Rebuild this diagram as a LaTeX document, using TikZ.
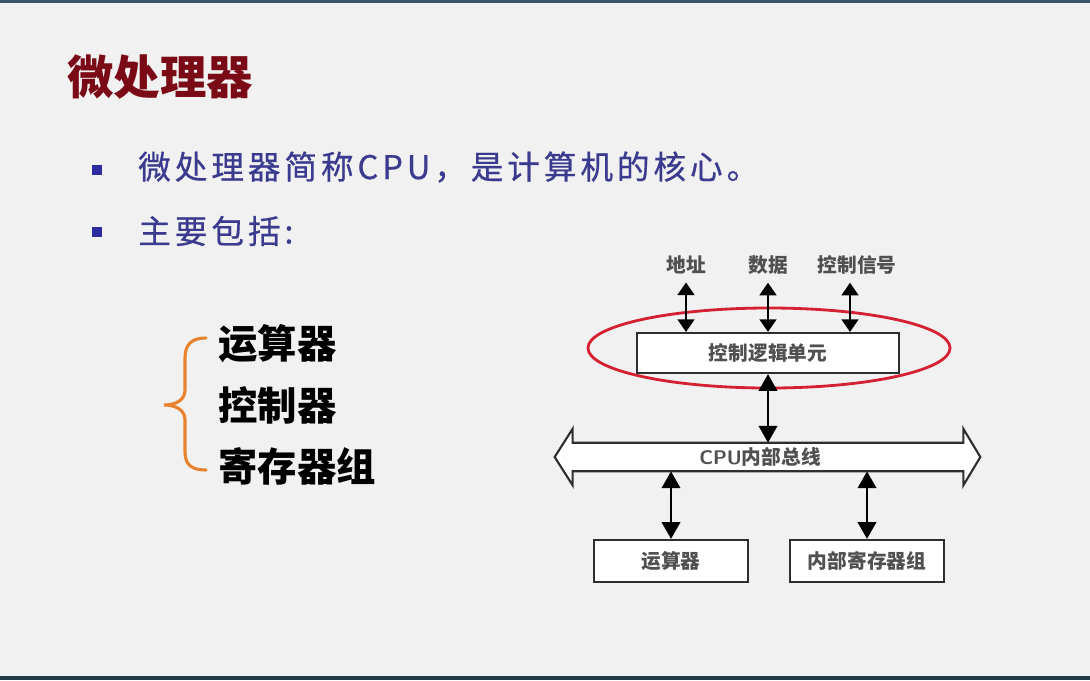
\documentclass[tikz,border=0pt]{standalone}
\usepackage{fontspec}
\usetikzlibrary{arrows.meta,calc,shapes.geometric}
\newfontfamily\cjk{Noto Sans CJK SC}
\newfontfamily\cjkwide[LetterSpace=12,FakeBold=0.6]{Noto Sans CJK SC}
\definecolor{pagebg}{HTML}{F1F1F1}
\definecolor{topbar}{HTML}{3C5566}
\definecolor{botbar}{HTML}{1F3B45}
\definecolor{titlered}{HTML}{7A0A16}
\definecolor{bodyblue}{HTML}{3A3A8E}
\definecolor{bulletblue}{HTML}{2C2CA0}
\definecolor{braceorange}{HTML}{E8822F}
\definecolor{ringred}{HTML}{D42030}
\definecolor{linegray}{HTML}{2E2E2E}
\definecolor{labelgray}{HTML}{505050}
\begin{document}
\begin{tikzpicture}[x=0.025cm,y=-0.025cm,
  bulletsq/.style={fill=bulletblue,minimum size=0.25cm,inner sep=0},
  bodytext/.style={anchor=west,inner sep=0,text=bodyblue,font=\cjkwide\fontsize{23.2}{26}\selectfont},
  parttext/.style={anchor=west,inner sep=0,text=black,font=\cjk\bfseries\fontsize{28}{32}\selectfont},
  unitbox/.style={draw=linegray,line width=1.5pt,fill=white,inner sep=0,
    text=labelgray,font=\cjk\bfseries\fontsize{14}{16}\selectfont},
  sigtext/.style={inner sep=0.2cm,text=labelgray,font=\cjk\bfseries\fontsize{14}{16}\selectfont},
  thinlink/.style={line width=1.5pt,draw=black,{Triangle[length=9pt,width=12pt]}-{Triangle[length=9pt,width=12pt]}},
  thicklink/.style={line width=2.1pt,draw=black,{Triangle[length=12pt,width=13pt]}-{Triangle[length=12pt,width=13pt]}},
]
\useasboundingbox (0,0) rectangle (1090,680);
% page
\fill[pagebg] (0,0) rectangle (1090,680);
\fill[topbar] (0,0) rectangle (1090,3);
\fill[botbar] (0,676) rectangle (1090,680);

% heading
\node[anchor=west,inner sep=0,text=titlered,font=\cjk\bfseries\fontsize{33}{37}\selectfont] (title) at (67,77) {微处理器};

% bullet list
\node[bulletsq] (b1) at (97,170) {};
\node[bodytext] (t1) at (138,167) {微处理器简称CPU，是计算机的核心。};
\node[bulletsq] (b2) at (97,232) {};
\node[bodytext] (t2) at (138,231) {主要包括:};

% component list with brace
\node[parttext] (p1) at (218,344) {运算器};
\node[parttext] (p2) at (218,405) {控制器};
\node[parttext] (p3) at (218,466) {寄存器组};
\draw[braceorange,line width=2.2pt,line cap=round]
  (206,338) .. controls (192,338) and (185,344) .. (185,358) -- (185,390)
  .. controls (185,400) and (176,405) .. (164,405)
  .. controls (176,405) and (185,410) .. (185,420) -- (185,452)
  .. controls (185,465) and (192,470) .. (206,470);

% block diagram
\node[unitbox,minimum width=6.55cm,minimum height=1cm] (ctrl) at (768,353) {控制逻辑单元};
\node[unitbox,minimum width=3.85cm,minimum height=1.05cm] (alu) at (671,561) {运算器};
\node[unitbox,minimum width=3.85cm,minimum height=1.05cm] (regs) at (867,561) {内部寄存器组};

\node[sigtext] (addr) at (686,265) {地址};
\node[sigtext] (data) at (768,265) {数据};
\node[sigtext] (sig) at (857,265) {控制信号};

\node[ellipse,draw=ringred,line width=2pt,minimum width=9.05cm,minimum height=2cm,inner sep=0] (ring) at (769,348) {};

% internal bus
\node[minimum width=9.75cm,minimum height=0.7cm,inner sep=0] (bus) at (768,457) {};
\draw[draw=linegray,line width=1.5pt,fill=white,line join=miter]
  (bus.north west) -- (bus.north east) -- ($(bus.north east)+(0,-14)$)
  -- ($(bus.east)+(17,0)$) -- ($(bus.south east)+(0,14)$) -- (bus.south east)
  -- (bus.south west) -- ($(bus.south west)+(0,14)$) -- ($(bus.west)+(-18,0)$)
  -- ($(bus.north west)+(0,-14)$) -- cycle;
\node[inner sep=0,font=\bfseries\fontsize{14}{16}\selectfont,text=labelgray] (buslabel) at ($(bus)+(-8,0)$) {\textsf{CPU}\cjk 内部总线};

% connectors
\draw[thinlink] (addr.south) -- (addr.south |- ctrl.north);
\draw[thinlink] (data.south) -- (data.south |- ctrl.north);
\draw[thinlink] ($(sig.south)+(-7,0)$) -- ($(sig.south |- ctrl.north)+(-7,0)$);
\draw[thicklink] (ctrl.south) -- (ctrl.south |- bus.north);
\draw[thicklink] (alu.north |- bus.south) -- (alu.north);
\draw[thicklink] (regs.north |- bus.south) -- (regs.north);
\end{tikzpicture}
\end{document}
